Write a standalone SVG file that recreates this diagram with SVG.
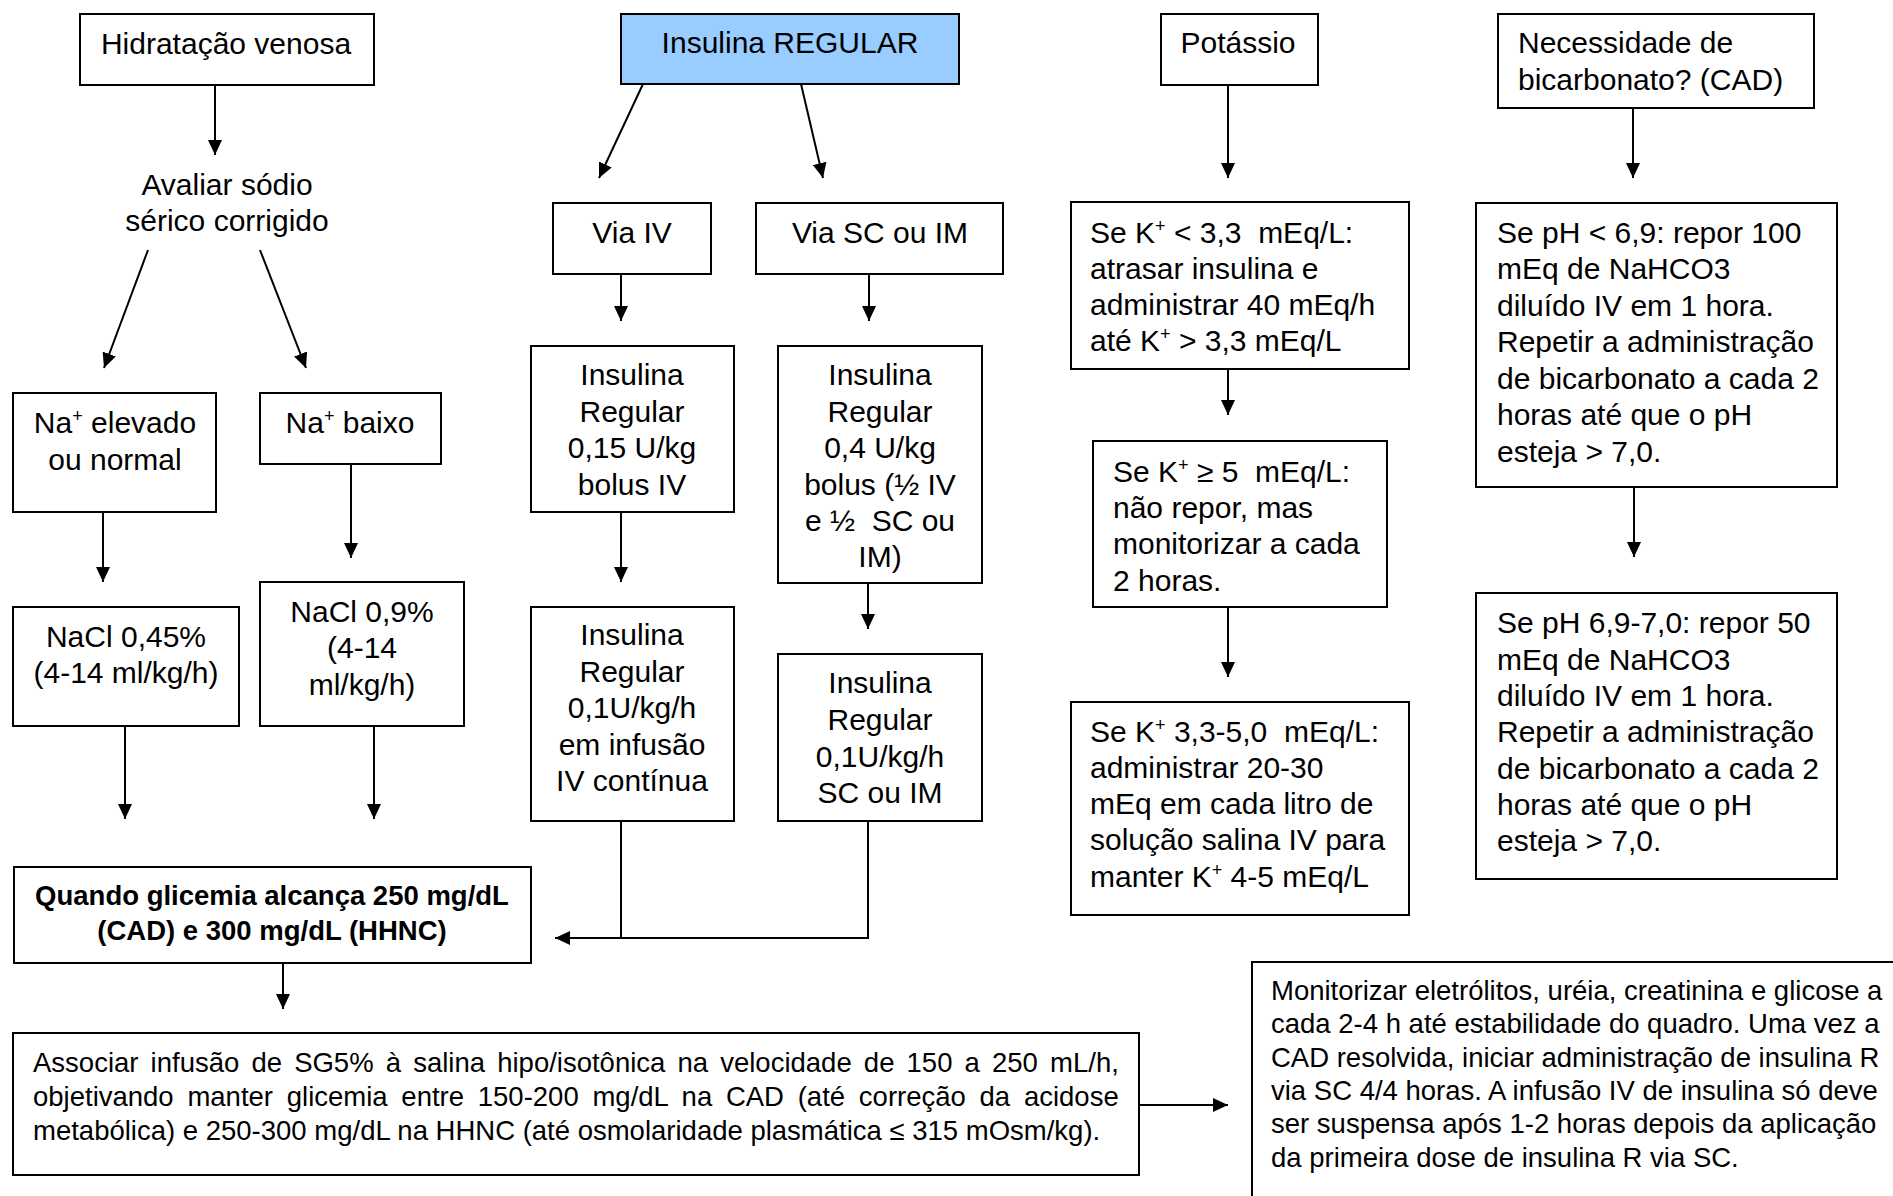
<svg xmlns="http://www.w3.org/2000/svg" width="1893" height="1196" viewBox="0 0 1893 1196">
<defs>
<style>
text{font-family:"Liberation Sans",Arial,Helvetica,sans-serif;font-size:30px;fill:#000;white-space:pre}
.c{text-anchor:middle}
.s{font-size:27.5px}
.b{font-weight:bold}
rect{fill:#fff;stroke:#000;stroke-width:2}
.blue{fill:#99CCFF}
#connectors line,#connectors polyline{stroke:#000;stroke-width:2;fill:none}
.a{marker-end:url(#arr)}
.sup{font-size:18px}
</style>
<marker id="arr" markerUnits="userSpaceOnUse" markerWidth="16" markerHeight="14" refX="15" refY="7" orient="auto">
<path d="M0,0 L15,7 L0,14 z" fill="#000"/>
</marker>
</defs>
<rect x="0" y="0" width="1893" height="1196" style="fill:#fff;stroke:none"/>

<g id="connectors">
<line class="a" x1="215" y1="85" x2="215" y2="155"/>
<line class="a" x1="148" y1="250" x2="104" y2="368"/>
<line class="a" x1="260" y1="250" x2="306" y2="368"/>
<line class="a" x1="103" y1="512" x2="103" y2="582"/>
<line class="a" x1="351" y1="464" x2="351" y2="558"/>
<line class="a" x1="125" y1="726" x2="125" y2="819"/>
<line class="a" x1="374" y1="726" x2="374" y2="819"/>
<line class="a" x1="643" y1="84" x2="599" y2="178"/>
<line class="a" x1="801" y1="84" x2="823" y2="178"/>
<line class="a" x1="621" y1="274" x2="621" y2="321"/>
<line class="a" x1="869" y1="274" x2="869" y2="321"/>
<line class="a" x1="621" y1="512" x2="621" y2="582"/>
<line class="a" x1="868" y1="583" x2="868" y2="629"/>
<line x1="621" y1="821" x2="621" y2="938"/>
<polyline class="a" points="868,821 868,938 555,938"/>
<line class="a" x1="283" y1="963" x2="283" y2="1009"/>
<line class="a" x1="1139" y1="1105" x2="1228" y2="1105"/>
<line class="a" x1="1228" y1="85" x2="1228" y2="178"/>
<line class="a" x1="1228" y1="369" x2="1228" y2="415"/>
<line class="a" x1="1228" y1="607" x2="1228" y2="677"/>
<line class="a" x1="1633" y1="108" x2="1633" y2="178"/>
<line class="a" x1="1634" y1="487" x2="1634" y2="557"/>
</g>

<g id="n-hidratacao">
<rect x="80" y="14" width="294" height="71"/>
<text class="c" x="226" y="54">Hidratação venosa</text>
</g>

<g id="n-avaliar">
<text class="c" x="227" y="195">Avaliar sódio</text>
<text class="c" x="227" y="231">sérico corrigido</text>
</g>

<g id="n-na-elevado">
<rect x="13" y="393" width="203" height="119"/>
<text class="c" x="115" y="433">Na<tspan class="sup" dy="-11">+</tspan><tspan dy="11"> elevado</tspan></text>
<text class="c" x="115" y="470">ou normal</text>
</g>

<g id="n-na-baixo">
<rect x="260" y="393" width="181" height="71"/>
<text class="c" x="350" y="433">Na<tspan class="sup" dy="-11">+</tspan><tspan dy="11"> baixo</tspan></text>
</g>

<g id="n-nacl045">
<rect x="13" y="607" width="226" height="119"/>
<text class="c" x="126" y="647">NaCl 0,45%</text>
<text class="c" x="126" y="683">(4-14 ml/kg/h)</text>
</g>

<g id="n-nacl09">
<rect x="260" y="582" width="204" height="144"/>
<text class="c" x="362" y="622">NaCl 0,9%</text>
<text class="c" x="362" y="658">(4-14</text>
<text class="c" x="362" y="695">ml/kg/h)</text>
</g>

<g id="n-quando">
<rect x="14" y="867" width="517" height="96"/>
<text class="c s b" x="272" y="905">Quando glicemia alcança 250 mg/dL</text>
<text class="c s b" x="272" y="940">(CAD) e 300 mg/dL (HHNC)</text>
</g>

<g id="n-associar">
<rect x="13" y="1033" width="1126" height="142"/>
<text class="s" x="33" y="1072" word-spacing="4.5">Associar infusão de SG5% à salina hipo/isotônica na velocidade de 150 a 250 mL/h,</text>
<text class="s" x="33" y="1106" word-spacing="6.1">objetivando manter glicemia entre 150-200 mg/dL na CAD (até correção da acidose</text>
<text class="s" x="33" y="1140">metabólica) e 250-300 mg/dL na HHNC (até osmolaridade plasmática ≤ 315 mOsm/kg).</text>
</g>

<g id="n-monitorizar">
<rect x="1252" y="962" width="700" height="300"/>
<text class="s" x="1271" y="1000">Monitorizar eletrólitos, uréia, creatinina e glicose a</text>
<text class="s" x="1271" y="1033">cada 2-4 h até estabilidade do quadro. Uma vez a</text>
<text class="s" x="1271" y="1067">CAD resolvida, iniciar administração de insulina R</text>
<text class="s" x="1271" y="1100">via SC 4/4 horas. A infusão IV de insulina só deve</text>
<text class="s" x="1271" y="1133">ser suspensa após 1-2 horas depois da aplicação</text>
<text class="s" x="1271" y="1167">da primeira dose de insulina R via SC.</text>
</g>

<g id="n-insulina-regular">
<rect class="blue" x="621" y="14" width="338" height="70"/>
<text class="c" x="790" y="53">Insulina REGULAR</text>
</g>

<g id="n-via-iv">
<rect x="553" y="203" width="158" height="71"/>
<text class="c" x="632" y="243">Via IV</text>
</g>

<g id="n-via-sc">
<rect x="756" y="203" width="247" height="71"/>
<text class="c" x="880" y="243">Via SC ou IM</text>
</g>

<g id="n-ins-015">
<rect x="531" y="346" width="203" height="166"/>
<text class="c" x="632" y="385">Insulina</text>
<text class="c" x="632" y="422">Regular</text>
<text class="c" x="632" y="458">0,15 U/kg</text>
<text class="c" x="632" y="495">bolus IV</text>
</g>

<g id="n-ins-04">
<rect x="778" y="346" width="204" height="237"/>
<text class="c" x="880" y="385">Insulina</text>
<text class="c" x="880" y="422">Regular</text>
<text class="c" x="880" y="458">0,4 U/kg</text>
<text class="c" x="880" y="495">bolus (½ IV</text>
<text class="c" x="880" y="531">e ½  SC ou</text>
<text class="c" x="880" y="567">IM)</text>
</g>

<g id="n-ins-01-iv">
<rect x="531" y="607" width="203" height="214"/>
<text class="c" x="632" y="645">Insulina</text>
<text class="c" x="632" y="682">Regular</text>
<text class="c" x="632" y="718">0,1U/kg/h</text>
<text class="c" x="632" y="755">em infusão</text>
<text class="c" x="632" y="791">IV contínua</text>
</g>

<g id="n-ins-01-sc">
<rect x="778" y="654" width="204" height="167"/>
<text class="c" x="880" y="693">Insulina</text>
<text class="c" x="880" y="730">Regular</text>
<text class="c" x="880" y="767">0,1U/kg/h</text>
<text class="c" x="880" y="803">SC ou IM</text>
</g>

<g id="n-potassio">
<rect x="1161" y="14" width="157" height="71"/>
<text class="c" x="1238" y="53">Potássio</text>
</g>

<g id="n-k-baixo">
<rect x="1071" y="202" width="338" height="167"/>
<text x="1090" y="243">Se K<tspan class="sup" dy="-11">+</tspan><tspan dy="11"> &lt; 3,3  mEq/L:</tspan></text>
<text x="1090" y="279">atrasar insulina e</text>
<text x="1090" y="315">administrar 40 mEq/h</text>
<text x="1090" y="351">até K<tspan class="sup" dy="-11">+</tspan><tspan dy="11"> &gt; 3,3 mEq/L</tspan></text>
</g>

<g id="n-k-alto">
<rect x="1093" y="441" width="294" height="166"/>
<text x="1113" y="482">Se K<tspan class="sup" dy="-11">+</tspan><tspan dy="11"> ≥ 5  mEq/L:</tspan></text>
<text x="1113" y="518">não repor, mas</text>
<text x="1113" y="554">monitorizar a cada</text>
<text x="1113" y="591">2 horas.</text>
</g>

<g id="n-k-normal">
<rect x="1071" y="702" width="338" height="213"/>
<text x="1090" y="742">Se K<tspan class="sup" dy="-11">+</tspan><tspan dy="11"> 3,3-5,0  mEq/L:</tspan></text>
<text x="1090" y="778">administrar 20-30</text>
<text x="1090" y="814">mEq em cada litro de</text>
<text x="1090" y="850">solução salina IV para</text>
<text x="1090" y="887">manter K<tspan class="sup" dy="-11">+</tspan><tspan dy="11"> 4-5 mEq/L</tspan></text>
</g>

<g id="n-bicarbonato">
<rect x="1498" y="14" width="316" height="94"/>
<text x="1518" y="53">Necessidade de</text>
<text x="1518" y="90">bicarbonato? (CAD)</text>
</g>

<g id="n-ph-baixo">
<rect x="1476" y="203" width="361" height="284"/>
<text x="1497" y="243">Se pH &lt; 6,9: repor 100</text>
<text x="1497" y="279">mEq de NaHCO3</text>
<text x="1497" y="316">diluído IV em 1 hora.</text>
<text x="1497" y="352">Repetir a administração</text>
<text x="1497" y="389">de bicarbonato a cada 2</text>
<text x="1497" y="425">horas até que o pH</text>
<text x="1497" y="462">esteja &gt; 7,0.</text>
</g>

<g id="n-ph-medio">
<rect x="1476" y="593" width="361" height="286"/>
<text x="1497" y="633">Se pH 6,9-7,0: repor 50</text>
<text x="1497" y="670">mEq de NaHCO3</text>
<text x="1497" y="706">diluído IV em 1 hora.</text>
<text x="1497" y="742">Repetir a administração</text>
<text x="1497" y="779">de bicarbonato a cada 2</text>
<text x="1497" y="815">horas até que o pH</text>
<text x="1497" y="851">esteja &gt; 7,0.</text>
</g>
</svg>
